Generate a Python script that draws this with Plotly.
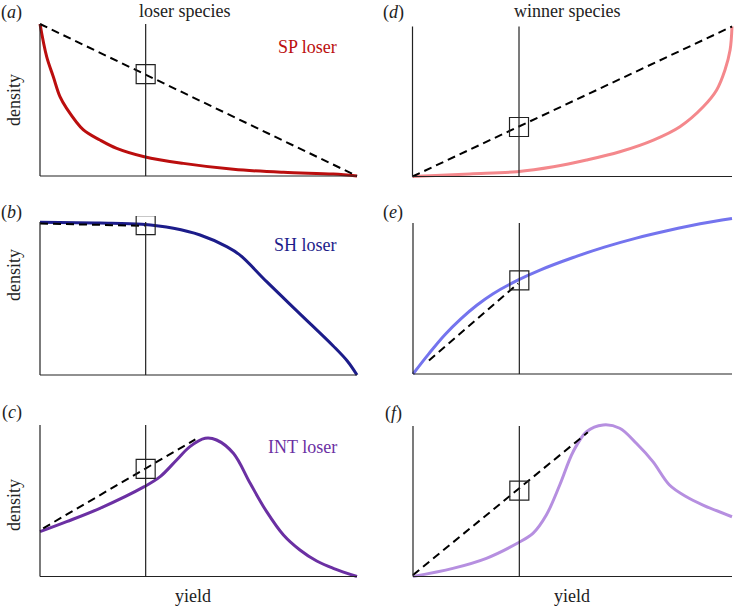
import plotly.graph_objects as go

# ==============================
# Data
# ==============================
VLINE_X = 1 / 3

# (a) SP loser
a_x = [0, 0.021, 0.042, 0.063, 0.084, 0.137, 0.189, 0.242, 0.329, 0.452, 0.61, 0.768, 0.925, 1.0]
a_y = [1.0, 0.785, 0.653, 0.522, 0.445, 0.303, 0.237, 0.182, 0.127, 0.083, 0.044, 0.024, 0.013, 0.0]
a_dash_x = [0, 1]
a_dash_y = [1, 0]
a_box_y = 0.67

# (d) winner vs SP loser
d_x = [0, 0.18, 0.327, 0.441, 0.545, 0.649, 0.754, 0.837, 0.91, 0.952, 0.978, 0.994, 1.0]
d_y = [0, 0.017, 0.032, 0.065, 0.11, 0.165, 0.243, 0.332, 0.465, 0.577, 0.71, 0.843, 1.0]
d_dash_x = [0, 1]
d_dash_y = [0, 1]
d_box_y = 0.33

# (b) SH loser
b_x = [0, 0.189, 0.322, 0.421, 0.505, 0.589, 0.631, 0.715, 0.82, 0.925, 0.97, 1.0]
b_y = [0.998, 0.993, 0.985, 0.959, 0.915, 0.839, 0.784, 0.61, 0.40, 0.19, 0.09, 0.0]
b_dash_x = [0, 0.33]
b_dash_y = [0.99, 0.975]
b_box_y = 0.98

# (e) winner vs SH loser
e_x = [0, 0.05, 0.1, 0.15, 0.2, 0.25, 0.327, 0.4, 0.5, 0.6, 0.7, 0.8, 0.9, 1.0]
e_y = [0, 0.135, 0.26, 0.365, 0.455, 0.53, 0.62, 0.69, 0.77, 0.84, 0.90, 0.95, 0.995, 1.03]
e_dash_x = [0.05, 0.33]
e_dash_y = [0.09, 0.60]
e_box_y = 0.62

# (c) INT loser
c_x = [0, 0.084, 0.189, 0.329, 0.379, 0.431, 0.473, 0.521, 0.557, 0.61, 0.663,
       0.715, 0.768, 0.82, 0.873, 0.925, 1.0]
c_y = [0.296, 0.362, 0.45, 0.593, 0.659, 0.769, 0.857, 0.912, 0.901, 0.813, 0.615,
       0.428, 0.274, 0.175, 0.102, 0.054, 0.0]
c_dash_x = [0.01, 0.49]
c_dash_y = [0.318, 0.905]
c_box_y = 0.71

# (f) winner vs INT loser
f_x = [0, 0.125, 0.23, 0.327, 0.376, 0.418, 0.46, 0.502, 0.544, 0.596, 0.648,
       0.7, 0.752, 0.804, 0.857, 0.909, 1.0]
f_y = [0, 0.054, 0.121, 0.221, 0.287, 0.409, 0.608, 0.829, 0.962, 1.007, 0.985,
       0.885, 0.763, 0.608, 0.53, 0.475, 0.397]
f_dash_x = [0.0, 0.548]
f_dash_y = [0.01, 0.958]
f_box_y = 0.57

# ==============================
# Layout config
# ==============================
W, H = 737, 608
FONT = "Liberation Serif, Times New Roman, DejaVu Serif, serif"
XPAD, YPAD = 0.01, 0.04
TEXT = "#222222"

# pixel boxes of the panels: (left, right, top(y=1), bottom(y=0))
panels = [
    dict(px=(40, 357, 24, 176), x=a_x, y=a_y, dx=a_dash_x, dy=a_dash_y, box=a_box_y, color="#BB0E0E"),
    dict(px=(412.5, 732, 26.5, 176.5), x=d_x, y=d_y, dx=d_dash_x, dy=d_dash_y, box=d_box_y, color="#F4888C"),
    dict(px=(40, 357, 222, 375), x=b_x, y=b_y, dx=b_dash_x, dy=b_dash_y, box=b_box_y, color="#1C1C8A"),
    dict(px=(413, 732, 223, 374), x=e_x, y=e_y, dx=e_dash_x, dy=e_dash_y, box=e_box_y, color="#7474EE"),
    dict(px=(40, 357, 425, 576.5), x=c_x, y=c_y, dx=c_dash_x, dy=c_dash_y, box=c_box_y, color="#6B30A3"),
    dict(px=(413, 732, 426, 576.5), x=f_x, y=f_y, dx=f_dash_x, dy=f_dash_y, box=f_box_y, color="#B68FE0"),
]

fig = go.Figure()
shapes = []
BOX_PX = 19

for i, p in enumerate(panels):
    n = "" if i == 0 else str(i + 1)
    xa, ya = "x" + n, "y" + n
    l, r, t, b = p["px"]
    sx = r - l          # px per data unit
    sy = b - t
    x0 = l - XPAD * sx
    x1 = r + XPAD * sx
    y_top = t - YPAD * sy
    y_bot = b + YPAD * sy
    fig.layout["xaxis" + n] = dict(domain=[x0 / W, x1 / W], range=[-XPAD, 1 + XPAD],
                                   visible=False, anchor=ya, fixedrange=True)
    fig.layout["yaxis" + n] = dict(domain=[1 - y_bot / H, 1 - y_top / H], range=[-YPAD, 1 + YPAD],
                                   visible=False, anchor=xa, fixedrange=True)

    # axes + vertical line at the reference yield
    for (ax0, ay0, ax1, ay1) in [(0, 0, 1, 0), (0, 0, 0, 1), (VLINE_X, 0, VLINE_X, 1)]:
        shapes.append(dict(type="line", xref=xa, yref=ya, x0=ax0, y0=ay0, x1=ax1, y1=ay1,
                           line=dict(color=TEXT, width=1.2)))

    fig.add_trace(go.Scatter(x=p["x"], y=p["y"], xaxis=xa, yaxis=ya, mode="lines",
                             line=dict(color=p["color"], width=3, shape="spline", smoothing=1.0),
                             showlegend=False, hoverinfo="skip"))
    fig.add_trace(go.Scatter(x=p["dx"], y=p["dy"], xaxis=xa, yaxis=ya, mode="lines",
                             line=dict(color="black", width=2, dash="8px,5px"),
                             showlegend=False, hoverinfo="skip"))

    hw = BOX_PX / 2 / sx
    hh = BOX_PX / 2 / sy
    shapes.append(dict(type="rect", xref=xa, yref=ya,
                       x0=VLINE_X - hw, x1=VLINE_X + hw, y0=p["box"] - hh, y1=p["box"] + hh,
                       line=dict(color=TEXT, width=1.2)))

# ==============================
# Texts
# ==============================
annots = []

def txt(s, x, y, size=18, color=TEXT, angle=0):
    annots.append(dict(text=s, x=x / W, y=1 - y / H, xref="paper", yref="paper",
                       showarrow=False, textangle=angle, xanchor="center", yanchor="middle",
                       font=dict(family=FONT, size=size, color=color)))

txt("(<i>a</i>)", 12, 12)
txt("(<i>b</i>)", 12, 213)
txt("(<i>c</i>)", 12, 412)
txt("(<i>d</i>)", 393, 12)
txt("(<i>e</i>)", 393, 213)
txt("(<i>f</i>)", 393, 413)
txt("loser species", 184, 11)
txt("winner species", 567, 11)
txt("SP loser", 307, 47, color=panels[0]["color"])
txt("SH loser", 305, 245, color=panels[2]["color"])
txt("INT loser", 302, 447, color=panels[4]["color"])
txt("density", 14, 100, angle=-90)
txt("density", 14, 275, angle=-90)
txt("density", 14, 505, angle=-90)
txt("yield", 193, 596)
txt("yield", 572, 596)

fig.update_layout(width=W, height=H, margin=dict(l=0, r=0, t=0, b=0),
                  paper_bgcolor="white", plot_bgcolor="rgba(0,0,0,0)",
                  font=dict(family=FONT),
                  shapes=shapes, annotations=annots, showlegend=False)

fig.write_html("out.html", config={"displayModeBar": False},
               post_script="document.body.style.margin='0';")
